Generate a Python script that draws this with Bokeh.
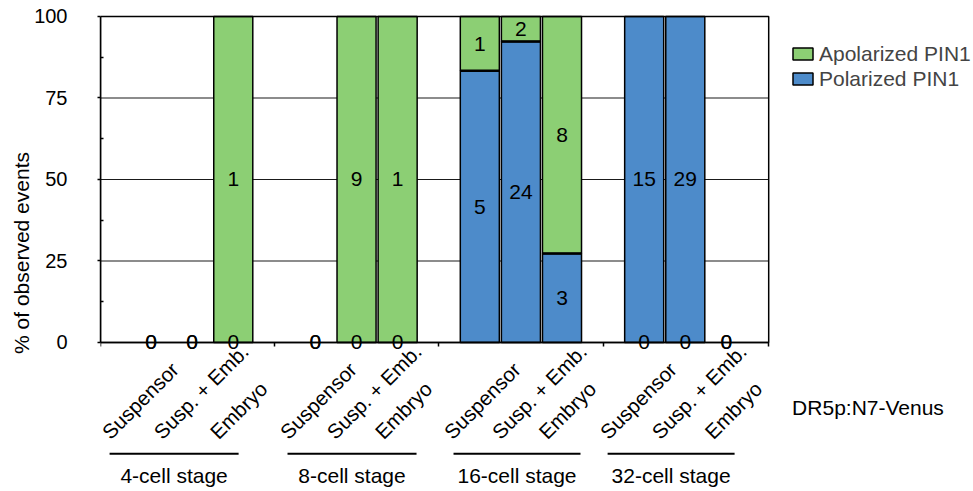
from bokeh.plotting import figure
from bokeh.models import (ColumnDataSource, Range1d, FixedTicker, LabelSet, Label,
                          Legend, LegendItem)
from bokeh.core.properties import value
from bokeh.embed import file_html
from bokeh.resources import INLINE

# ---------------- data ----------------
stages = ["4-cell stage", "8-cell stage", "16-cell stage", "32-cell stage"]
tissues = ["Suspensor", "Susp. + Emb.", "Embryo"]
polarized = [0, 0, 0, 0, 0, 0, 5, 24, 3, 15, 29, 0]
apolarized = [0, 0, 1, 0, 9, 1, 1, 2, 8, 0, 0, 0]
y_ticks = [0, 25, 50, 75, 100]
y_minor = [12.5, 37.5, 62.5, 87.5]
y_title = "% of observed events"
series_names = ["Apolarized PIN1", "Polarized PIN1"]
marker_text = "DR5p:N7-Venus"

# ---------------- layout / style ----------------
GREEN = "#8CCF74"
BLUE = "#4D8BCA"
FONT = "Liberation Sans"
FS = "21px"
FS_TICK = "20px"
FS_ROT = "20.5px"
SLOT_GAP = 1
BAR_W = 0.95
BOX_X = (-1.231, 15.03)        # plotted box in slot units
X_RANGE = (-1.231, 20.014)     # frame extends to canvas edge for outside texts
Y_RANGE = (-45.71, 100.61)
LABEL_OFFSETS = [[-0.98, 0.28, 1.65], [-0.65, 0.49, 1.66],
                 [-0.66, 0.51, 1.65], [-0.86, 0.40, 1.69]]
LINE_SPANS = [(-1.01, 2.13), (-0.68, 2.46), (-0.64, 2.45), (-0.89, 2.20)]
Y_CAT, Y_LINE, Y_STAGE, Y_MARK = -30.06, -34.14, -43.25, -19.85
X_MARK = 15.60

n_t = len(tissues)
xs, stage_base = [], []
for g in range(len(stages)):
    base = g * (n_t + SLOT_GAP)
    stage_base.append(base)
    for k in range(n_t):
        xs.append(base + k)

pct_p, pct_a = [], []
for pv, av in zip(polarized, apolarized):
    tot = pv + av
    pct_p.append(100.0 * pv / tot if tot else 0.0)
    pct_a.append(100.0 * av / tot if tot else 0.0)

blue_src = ColumnDataSource(dict(
    x=[x for x, pv in zip(xs, polarized) if pv > 0],
    top=[pp for pp, pv in zip(pct_p, polarized) if pv > 0]))
green_src = ColumnDataSource(dict(
    x=[x for x, av in zip(xs, apolarized) if av > 0],
    bottom=[pp for pp, av in zip(pct_p, apolarized) if av > 0],
    top=[pp + pa for pp, pa, av in zip(pct_p, pct_a, apolarized) if av > 0]))
both = [(x, pp) for x, pp, pv, av in zip(xs, pct_p, polarized, apolarized) if pv > 0 and av > 0]
sep_src = ColumnDataSource(dict(
    x0=[x - BAR_W / 2 for x, _ in both],
    x1=[x + BAR_W / 2 for x, _ in both],
    y=[pp for _, pp in both]))

p = figure(width=973, height=491, x_range=Range1d(*X_RANGE), y_range=Range1d(*Y_RANGE),
           output_backend="svg", toolbar_location=None, x_axis_location="above",
           min_border_left=100, min_border_right=0, min_border_top=14, min_border_bottom=0)
p.background_fill_color = "white"
p.border_fill_color = "white"
p.outline_line_color = None
p.grid.visible = False

yax = p.yaxis[0]
yax.bounds = (y_ticks[0], y_ticks[-1])
yax.ticker = FixedTicker(ticks=y_ticks, minor_ticks=y_minor)
yax.axis_label = y_title
yax.axis_label_text_font = FONT
yax.axis_label_text_font_size = FS
yax.axis_label_text_font_style = "normal"
yax.axis_label_text_color = "black"
yax.axis_label_standoff = -2
yax.major_label_text_font = FONT
yax.major_label_text_font_size = FS_TICK
yax.major_label_text_color = "black"
yax.major_label_standoff = 30
yax.major_tick_in = 0
yax.major_tick_out = 3
yax.minor_tick_in = 3
yax.minor_tick_out = 0
yax.axis_line_width = 1.5
yax.major_tick_line_width = 1.5
yax.minor_tick_line_width = 1.5
yax.axis_line_color = "black"
yax.major_tick_line_color = "black"
yax.minor_tick_line_color = "black"

xax = p.xaxis[0]
xax.fixed_location = 0
xax.bounds = BOX_X
xax.ticker = FixedTicker(ticks=[BOX_X[0]] + [b + n_t for b in stage_base[:-1]] + [BOX_X[1]])
xax.major_label_text_font_size = "1px"
xax.major_label_text_color = None
xax.major_label_standoff = 0
xax.major_tick_in = 4
xax.major_tick_out = 0
xax.minor_tick_in = 0
xax.minor_tick_out = 0
xax.minor_tick_line_color = None
xax.axis_line_width = 1.5
xax.major_tick_line_width = 1.5
xax.axis_line_color = "black"
xax.major_tick_line_color = "black"

# horizontal gridlines inside the box
grid_y = y_ticks[1:-1]
p.segment(x0=[BOX_X[0]] * len(grid_y), x1=[BOX_X[1]] * len(grid_y), y0=grid_y, y1=grid_y,
          line_color="#1a1a1a", line_width=1.2)

r_blue = p.vbar(x="x", top="top", bottom=0, width=BAR_W, source=blue_src,
                fill_color=BLUE, line_color="black", line_width=1.5)
r_green = p.vbar(x="x", top="top", bottom="bottom", width=BAR_W, source=green_src,
                 fill_color=GREEN, line_color="black", line_width=1.5)
p.segment(x0="x0", x1="x1", y0="y", y1="y", source=sep_src, line_color="black", line_width=2.5)

# plot box (top and right borders)
p.quad(left=[BOX_X[0]], right=[BOX_X[1]], bottom=[y_ticks[0]], top=[y_ticks[-1]],
       fill_color=None, line_color="black", line_width=1.5)

# count labels
lx, ly, lt = [], [], []
for x, pv, av, pp, pa in zip(xs, polarized, apolarized, pct_p, pct_a):
    lx.append(x); ly.append(pp / 2 if pv > 0 else 0); lt.append(str(pv))
    lx.append(x); ly.append(pp + pa / 2 if av > 0 else 0); lt.append(str(av))
p.add_layout(LabelSet(x="x", y="y", text="text",
                      source=ColumnDataSource(dict(x=lx, y=ly, text=lt)),
                      text_align="center", text_baseline="middle",
                      text_font=value(FONT), text_font_size=FS, text_color="black"))

# rotated category labels
cx, ct = [], []
for g, base in enumerate(stage_base):
    for k in range(n_t):
        cx.append(base + LABEL_OFFSETS[g][k])
        ct.append(tissues[k])
p.add_layout(LabelSet(x="x", y=Y_CAT, text="text",
                      source=ColumnDataSource(dict(x=cx, text=ct)),
                      angle=45, angle_units="deg", text_align="left",
                      text_baseline="alphabetic",
                      text_font=value(FONT), text_font_size=FS_ROT, text_color="black"))

# stage underlines + stage labels
ux0, ux1, sx, st = [], [], [], []
for g, base in enumerate(stage_base):
    a, b = LINE_SPANS[g]
    ux0.append(base + a)
    ux1.append(base + b)
    sx.append(base + (a + b) / 2)
    st.append(stages[g])
p.segment(x0=ux0, x1=ux1, y0=[Y_LINE] * len(ux0), y1=[Y_LINE] * len(ux0),
          line_color="black", line_width=2)
p.add_layout(LabelSet(x="x", y=Y_STAGE, text="text",
                      source=ColumnDataSource(dict(x=sx, text=st)),
                      text_align="center", text_baseline="alphabetic",
                      text_font=value(FONT), text_font_size=FS, text_color="black"))

p.add_layout(Label(x=X_MARK, y=Y_MARK, text=marker_text, text_align="left",
                   text_baseline="alphabetic", text_font=FONT, text_font_size=FS,
                   text_color="black"))

legend = Legend(items=[LegendItem(label=series_names[0], renderers=[r_green]),
                       LegendItem(label=series_names[1], renderers=[r_blue])],
                location=(690, 400), padding=0, margin=0, spacing=0,
                glyph_width=25, glyph_height=15, label_height=25, label_standoff=4,
                label_text_font=FONT, label_text_font_size=FS,
                background_fill_alpha=0, border_line_color=None)
p.add_layout(legend)

open("out.html", "w").write(file_html(p, INLINE))
